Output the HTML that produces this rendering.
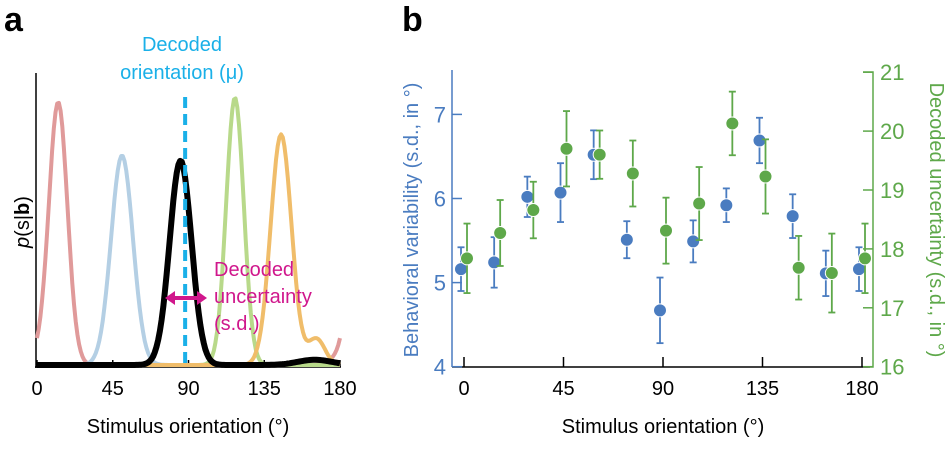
<!DOCTYPE html>
<html><head><meta charset="utf-8"><style>
html,body{margin:0;padding:0;background:#fff;width:951px;height:456px;overflow:hidden}
svg text{font-family:"Liberation Sans",Arial,sans-serif}
</style></head><body>
<svg id="fig" width="951" height="456" viewBox="0 0 951 456" xmlns="http://www.w3.org/2000/svg">
<g id="pa">
<text x="4" y="31" font-size="34" font-weight="bold">a</text>
<line x1="36" y1="73" x2="36" y2="368" stroke="#000" stroke-width="1.5"/>
<line x1="35" y1="367" x2="341" y2="367" stroke="#000" stroke-width="1.5"/>
<g id="pa-ticks"></g>
<g id="pa-curves"></g>
<line id="mu-line" y1="97" y2="367" stroke="#1ab0e8" stroke-width="4" stroke-dasharray="11,6"/>
<g>
<line x1="172" y1="298" x2="200" y2="298" stroke="#d0178c" stroke-width="4"/>
<polygon points="165,298 175,291 175,305" fill="#d0178c"/>
<polygon points="207,298 197,291 197,305" fill="#d0178c"/>
</g>
<text x="182" y="51" font-size="20" fill="#1ab0e8" text-anchor="middle">Decoded</text>
<text x="182" y="79" font-size="20" fill="#1ab0e8" text-anchor="middle">orientation (μ)</text>
<text x="214" y="276" font-size="20" fill="#d0178c">Decoded</text>
<text x="214" y="303" font-size="20" fill="#d0178c">uncertainty</text>
<text x="214" y="330" font-size="20" fill="#d0178c">(s.d.)</text>
<text transform="translate(29,222) rotate(-90)" font-size="20" text-anchor="middle"><tspan font-style="italic">p</tspan>(s|<tspan font-weight="bold">b</tspan>)</text>
<text x="188" y="433" font-size="20" text-anchor="middle">Stimulus orientation (°)</text>
</g>
<g id="pb">
<text x="402" y="31" font-size="34" font-weight="bold">b</text>
<line x1="452" y1="70" x2="452" y2="367" stroke="#4a7cc0" stroke-width="1.5"/>
<line x1="452" y1="367" x2="870" y2="367" stroke="#000" stroke-width="1.5"/>
<polyline points="863,72 873,72 873,367 868,367" fill="none" stroke="#5ea84a" stroke-width="1.5"/>
<g id="pb-axes"></g>
<g id="pb-marks"></g>
<text transform="translate(418,220) rotate(-90)" font-size="20" fill="#4a7cc0" text-anchor="middle">Behavioral variability (s.d., in °)</text>
<text transform="translate(930,220) rotate(90)" font-size="20" fill="#5ea84a" text-anchor="middle">Decoded uncertainty (s.d., in °)</text>
<text x="663" y="433" font-size="20" text-anchor="middle">Stimulus orientation (°)</text>
</g>
</svg>
<script>
// Panel a: posterior curves (peak orientation, peak height, width)
const curveNames=['red','blue','black','green','orange'];
const curvePeaks=[12.6,50.5,85.3,117.6,145];
const curveHeights=[1.0,0.8,0.78,1.02,0.88];
const curveSds=[5.5,6.5,6.5,5.2,6.2];
const curveColors=['#e09a9a','#b4cfe4','#000000','#b8d98a','#f0bd6a'];
const decodedMu=88;
const xTicksA=[0,45,90,135,180];
// Panel b
const orientations=[0,15,30,45,60,75,90,105,120,135,150,165,180];
const behavMean=[5.16,5.24,6.02,6.07,6.52,5.51,4.67,5.49,5.92,6.69,5.79,5.11,5.16];
const behavErr=[0.26,0.30,0.24,0.35,0.29,0.22,0.39,0.25,0.20,0.27,0.26,0.27,0.26];
const decMean=[17.84,18.27,18.66,19.70,19.60,19.28,18.31,18.77,20.13,19.23,17.68,17.59,17.84];
const decErr=[0.59,0.56,0.48,0.64,0.41,0.56,0.56,0.62,0.54,0.63,0.54,0.67,0.59];
const xTicksB=[0,45,90,135,180];
const leftTicks=[4,5,6,7];
const rightTicks=[16,17,18,19,20,21];

const NS='http://www.w3.org/2000/svg';
function mk(tag,attrs,parent,txt){const e=document.createElementNS(NS,tag);for(const k in attrs)e.setAttribute(k,attrs[k]);if(txt!==undefined)e.textContent=txt;parent.appendChild(e);return e;}
const xa=v=>37+v*(340-37)/180;
const ya=v=>365-v*(365-103);
const ta=document.getElementById('pa-ticks');
xTicksA.forEach(t=>{
 const l=mk('line',{x1:xa(t),x2:xa(t),y1:367,y2:360,stroke:'#000','stroke-width':1.5},ta);
 
 
 const tx=mk('text',{x:xa(t),y:395,'font-size':20,'text-anchor':'middle'},ta,String(t));
 
 
});
const cg=document.getElementById('pa-curves');
const order=[0,1,3,4,2];
order.forEach(i=>{
 let pts=[];
 for(let s=0;s<=180;s+=1){
  let v=0;
  for(const k of [-180,0,180]){const d=s-curvePeaks[i]-k;v+=curveHeights[i]*Math.exp(-d*d/(2*curveSds[i]*curveSds[i]));}
  if(i===0){v+=0.03*Math.exp(-Math.pow(Math.min(s,180-s),2)/(2*36));}
  if(i===4){const d=s-166;v+=0.1*Math.exp(-d*d/(2*25));}
  if(i===2){const d=s-165;v+=0.02*Math.exp(-d*d/(2*100));}
  pts.push(xa(s).toFixed(1)+','+ya(v).toFixed(1));
 }
 const p=mk('polyline',{points:pts.join(' '),fill:'none',stroke:curveColors[i],'stroke-width':i===2?6:4,'stroke-linejoin':'round'},cg);
 
 
});
const mu=document.getElementById('mu-line');mu.setAttribute('x1',xa(decodedMu));mu.setAttribute('x2',xa(decodedMu));
const xb=v=>464+v*(862-464)/180;
const yl=v=>366.7-(v-4)*84.1;
const yr=v=>366.7-(v-16)*58.9;
const ax=document.getElementById('pb-axes');
xTicksB.forEach(t=>{
 const l=mk('line',{x1:xb(t),x2:xb(t),y1:367,y2:357,stroke:'#000','stroke-width':1.5},ax);
 
 
 const tx=mk('text',{x:xb(t),y:395,'font-size':20,'text-anchor':'middle'},ax,String(t));
 
 
});
leftTicks.forEach(t=>{
 const l=mk('line',{x1:452,x2:462,y1:yl(t),y2:yl(t),stroke:'#4a7cc0','stroke-width':1.5},ax);
 
 
 const tx=mk('text',{x:446,y:yl(t)+8,'font-size':22,'text-anchor':'end',fill:'#4a7cc0'},ax,String(t));
 
 
});
rightTicks.forEach(t=>{
 const l=mk('line',{x1:863,x2:873,y1:yr(t),y2:yr(t),stroke:'#5ea84a','stroke-width':1.5},ax);
 
 
 const tx=mk('text',{x:880,y:yr(t)+8,'font-size':22,fill:'#5ea84a'},ax,String(t));
 
 
});
const mg=document.getElementById('pb-marks');
function errbar(x,y1,y2,c,name){
 const g=mk('g',{stroke:c,'stroke-width':1.8},mg);
 
 
 mk('line',{x1:x,x2:x,y1:y1,y2:y2},g);
 mk('line',{x1:x-3.5,x2:x+3.5,y1:y1,y2:y1},g);
 mk('line',{x1:x-3.5,x2:x+3.5,y1:y2,y2:y2},g);
}
orientations.forEach((o,i)=>{
 const x=xb(o)-3;
 errbar(x,yl(behavMean[i]+behavErr[i]),yl(behavMean[i]-behavErr[i]),'#4a7cc0','behavioral-errorbar');
 const c=mk('circle',{cx:x,cy:yl(behavMean[i]),r:6.5,fill:'#4a7cc0',stroke:'#fff','stroke-width':1},mg);
 
 
});
orientations.forEach((o,i)=>{
 const x=xb(o)+3;
 errbar(x,yr(decMean[i]+decErr[i]),yr(decMean[i]-decErr[i]),'#5ea84a','decoded-errorbar');
 const c=mk('circle',{cx:x,cy:yr(decMean[i]),r:6.5,fill:'#5ea84a',stroke:'#fff','stroke-width':1},mg);
 
 
});
</script>
</body></html>
